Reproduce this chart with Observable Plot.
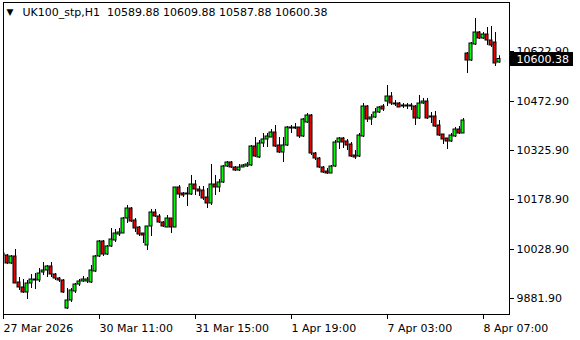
<!DOCTYPE html>
<html>
<head>
<meta charset="utf-8">
<script src="https://cdn.jsdelivr.net/npm/d3@7"></script>
<script src="https://cdn.jsdelivr.net/npm/@observablehq/plot@0.6"></script>
<style>
  html, body { margin: 0; padding: 0; background: #fff; }
  #chart svg { display: block; }
</style>
</head>
<body>
<div id="chart"></div>
<script>
const symbol = "UK100_stp,H1";

const open = [
10010.9, 10010.9, 9986.9, 10007.9, 9929.9, 9914.9, 9899.9, 9926.9, 9935.9, 9935.9,
9959.9, 9965.9, 9977.9, 9953.9, 9941.9, 9935.9, 9851.9, 9875.9, 9902.9, 9923.9,
9932.9, 9932.9, 9929.9, 9962.9, 10007.9, 10052.9, 10013.9, 10037.9, 10055.9, 10073.9,
10076.9, 10121.9, 10151.9, 10115.9, 10094.9, 10076.9, 10040.9, 10097.9, 10139.9, 10127.9,
10109.9, 10094.9, 10121.9, 10094.9, 10214.9, 10196.9, 10193.9, 10193.9, 10223.9, 10208.9,
10205.9, 10184.9, 10166.9, 10223.9, 10214.9, 10229.9, 10277.9, 10289.9, 10274.9, 10265.9,
10274.9, 10277.9, 10280.9, 10337.9, 10304.9, 10346.9, 10358.9, 10364.9, 10379.9, 10340.9,
10319.9, 10340.9, 10391.9, 10391.9, 10394.9, 10367.9, 10409.9, 10430.9, 10316.9, 10301.9,
10274.9, 10262.9, 10256.9, 10277.9, 10349.9, 10361.9, 10352.9, 10343.9, 10310.9, 10307.9,
10367.9, 10457.9, 10418.9, 10424.9, 10439.9, 10457.9, 10472.9, 10487.9, 10466.9, 10466.9,
10460.9, 10460.9, 10457.9, 10457.9, 10421.9, 10466.9, 10472.9, 10424.9, 10427.9, 10400.9,
10373.9, 10361.9, 10352.9, 10367.9, 10388.9, 10376.9, 10616.9, 10595.9, 10643.9, 10679.9,
10661.9, 10673.9, 10655.9, 10649.9, 10589.88
];

const high = [
10022.9, 10013.9, 10010.9, 10028.9, 9944.9, 9938.9, 9935.9, 9953.9, 9956.9, 9971.9,
9989.9, 9980.9, 9989.9, 9956.9, 9944.9, 9938.9, 9911.9, 9911.9, 9926.9, 9938.9,
9947.9, 9944.9, 9980.9, 10010.9, 10055.9, 10055.9, 10040.9, 10091.9, 10088.9, 10091.9,
10124.9, 10160.9, 10154.9, 10121.9, 10097.9, 10076.9, 10097.9, 10148.9, 10148.9, 10133.9,
10112.9, 10130.9, 10121.9, 10214.9, 10220.9, 10199.9, 10214.9, 10250.9, 10235.9, 10217.9,
10217.9, 10211.9, 10283.9, 10250.9, 10238.9, 10280.9, 10292.9, 10292.9, 10277.9, 10283.9,
10283.9, 10289.9, 10340.9, 10364.9, 10355.9, 10376.9, 10376.9, 10388.9, 10400.9, 10364.9,
10364.9, 10397.9, 10400.9, 10406.9, 10394.9, 10421.9, 10436.9, 10433.9, 10319.9, 10304.9,
10277.9, 10271.9, 10280.9, 10355.9, 10364.9, 10364.9, 10358.9, 10349.9, 10325.9, 10376.9,
10466.9, 10460.9, 10433.9, 10451.9, 10457.9, 10463.9, 10520.9, 10499.9, 10475.9, 10469.9,
10466.9, 10466.9, 10466.9, 10460.9, 10490.9, 10481.9, 10481.9, 10439.9, 10442.9, 10415.9,
10373.9, 10361.9, 10376.9, 10394.9, 10397.9, 10421.9, 10619.9, 10649.9, 10721.9, 10682.9,
10679.9, 10694.9, 10697.9, 10679.9, 10609.88
];

const low = [
10004.9, 9983.9, 9983.9, 9926.9, 9905.9, 9896.9, 9878.9, 9911.9, 9908.9, 9929.9,
9950.9, 9944.9, 9944.9, 9935.9, 9929.9, 9896.9, 9848.9, 9869.9, 9896.9, 9917.9,
9929.9, 9926.9, 9926.9, 9959.9, 10004.9, 10007.9, 10010.9, 10034.9, 10049.9, 10067.9,
10076.9, 10106.9, 10109.9, 10079.9, 10067.9, 10046.9, 10025.9, 10067.9, 10124.9, 10106.9,
10094.9, 10094.9, 10076.9, 10094.9, 10181.9, 10184.9, 10157.9, 10190.9, 10190.9, 10187.9,
10175.9, 10151.9, 10160.9, 10190.9, 10199.9, 10226.9, 10274.9, 10271.9, 10262.9, 10262.9,
10274.9, 10274.9, 10277.9, 10304.9, 10301.9, 10334.9, 10334.9, 10364.9, 10334.9, 10316.9,
10289.9, 10337.9, 10376.9, 10388.9, 10361.9, 10364.9, 10406.9, 10310.9, 10295.9, 10271.9,
10256.9, 10253.9, 10256.9, 10274.9, 10328.9, 10331.9, 10325.9, 10304.9, 10298.9, 10304.9,
10364.9, 10409.9, 10400.9, 10421.9, 10436.9, 10442.9, 10457.9, 10460.9, 10457.9, 10454.9,
10451.9, 10448.9, 10445.9, 10400.9, 10418.9, 10463.9, 10418.9, 10406.9, 10394.9, 10367.9,
10343.9, 10328.9, 10349.9, 10364.9, 10373.9, 10376.9, 10556.9, 10592.9, 10640.9, 10658.9,
10658.9, 10640.9, 10634.9, 10577.9, 10587.88
];

const close = [
10016.9, 9986.9, 10007.9, 9926.9, 9914.9, 9899.9, 9926.9, 9938.9, 9938.9, 9956.9,
9965.9, 9977.9, 9953.9, 9941.9, 9935.9, 9899.9, 9875.9, 9905.9, 9923.9, 9932.9,
9938.9, 9938.9, 9965.9, 10007.9, 10052.9, 10013.9, 10037.9, 10058.9, 10076.9, 10079.9,
10121.9, 10151.9, 10112.9, 10091.9, 10073.9, 10070.9, 10097.9, 10139.9, 10127.9, 10109.9,
10097.9, 10121.9, 10094.9, 10214.9, 10193.9, 10190.9, 10196.9, 10223.9, 10208.9, 10202.9,
10181.9, 10166.9, 10223.9, 10214.9, 10229.9, 10277.9, 10289.9, 10274.9, 10265.9, 10274.9,
10280.9, 10283.9, 10337.9, 10307.9, 10346.9, 10358.9, 10367.9, 10379.9, 10337.9, 10319.9,
10340.9, 10394.9, 10394.9, 10394.9, 10367.9, 10418.9, 10430.9, 10316.9, 10301.9, 10274.9,
10259.9, 10256.9, 10277.9, 10349.9, 10361.9, 10349.9, 10340.9, 10307.9, 10304.9, 10370.9,
10457.9, 10418.9, 10424.9, 10439.9, 10454.9, 10448.9, 10487.9, 10466.9, 10463.9, 10454.9,
10457.9, 10457.9, 10460.9, 10421.9, 10466.9, 10472.9, 10421.9, 10427.9, 10397.9, 10370.9,
10358.9, 10352.9, 10370.9, 10388.9, 10376.9, 10415.9, 10595.9, 10646.9, 10679.9, 10661.9,
10673.9, 10655.9, 10640.9, 10586.9, 10600.38
];

const xTickIndex = [0, 24, 48, 72, 96, 120];
const xTickLabels = ["27 Mar 2026", "30 Mar 11:00", "31 Mar 15:00", "1 Apr 19:00", "7 Apr 03:00", "8 Apr 07:00"];
const yTicks = [9881.90, 10028.90, 10178.90, 10325.90, 10472.90, 10622.90];

const bullColor = "#00ff00";
const bearColor = "#ee0000";

const bars = close.map((c, i) => ({i, open: open[i], high: high[i], low: low[i], close: c}));
const last = bars[bars.length - 1];
const titleText = symbol + "\u00a0\u00a0" + [last.open, last.high, last.low, last.close].map(v => v.toFixed(2)).join(" ");

const chart = Plot.plot({
  width: 580,
  height: 340,
  marginLeft: 3,
  marginRight: 71,
  marginTop: 2,
  marginBottom: 26,
  style: {fontFamily: "DejaVu Sans", fontSize: "11px", background: "#fff", color: "#000"},
  x: {type: "linear", domain: [0, 126.5], axis: null},
  y: {type: "linear", domain: [9833.9, 10769.9], axis: null},
  marks: [
    Plot.axisX({
      ticks: xTickIndex,
      tickFormat: d => xTickLabels[xTickIndex.indexOf(d)],
      tickSize: 5,
      tickPadding: 5,
      textAnchor: "start",
      anchor: "bottom",
      label: null
    }),
    Plot.axisY({
      anchor: "right",
      ticks: yTicks,
      tickFormat: d => d.toFixed(2),
      tickSize: 4,
      tickPadding: 3,
      label: null
    }),
    Plot.ruleX(bars, {x: "i", y1: "low", y2: "high", stroke: "#000", strokeWidth: 1, clip: true}),
    Plot.rect(bars, {
      x1: d => d.i - 0.5,
      x2: d => d.i + 0.25,
      y1: "open",
      y2: "close",
      fill: d => d.close >= d.open ? bullColor : bearColor,
      stroke: "#000",
      strokeWidth: 1,
      clip: true
    }),
    Plot.frame({stroke: "#000"}),
    Plot.ruleY([last.close], {stroke: "#000", strokeWidth: 14, insetLeft: 507, insetRight: -64}),
    Plot.text([last.close], {y: d => d, text: d => d.toFixed(2), frameAnchor: "right", dx: 7, textAnchor: "start", fill: "#fff"}),
    Plot.text(["\u25BC"], {frameAnchor: "top-left", dx: 3, dy: 10, lineAnchor: "middle", textAnchor: "start", fontSize: 9, fill: "#000"}),
    Plot.text([titleText], {frameAnchor: "top-left", dx: 19, dy: 10, lineAnchor: "middle", textAnchor: "start", fill: "#000"})
  ]
});

document.getElementById("chart").appendChild(chart);
</script>
</body>
</html>
